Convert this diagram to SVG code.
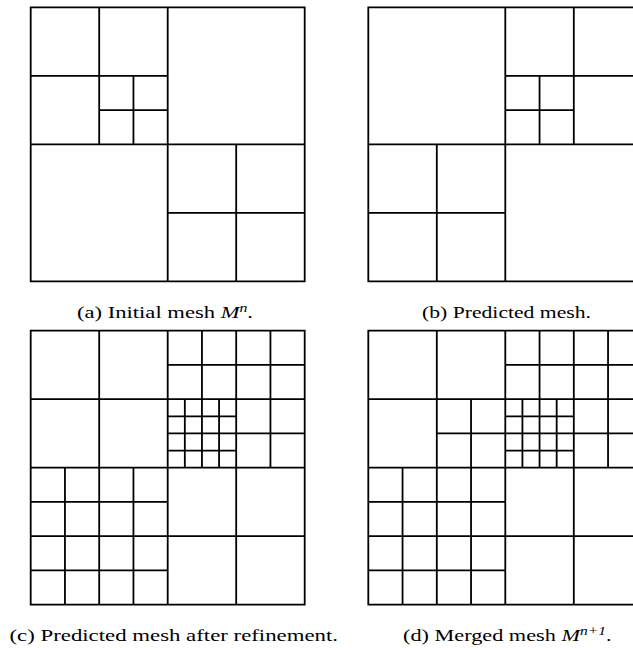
<svg xmlns="http://www.w3.org/2000/svg" width="633" height="648" viewBox="0 0 633 648">
<style>
.m{fill:none;stroke:#000;stroke-width:1.8;stroke-linecap:square}
.cap{font-family:"Liberation Serif","DejaVu Serif",serif;font-size:16.5px;fill:#000}
.it{font-style:italic}
</style>
<rect width="633" height="648" fill="#fff"/>
<g id="panel-a" transform="translate(30.7,7.3)">
<path class="m" d="M0,0H274V274H0Z M137,0V274 M0,137H274 M68.5,0V137 M0,68.5H137 M102.75,68.5V137 M68.5,102.75H137 M205.5,137V274 M137,205.5H274"/>
</g>
<g id="panel-b" transform="translate(368.3,7.3)">
<path class="m" d="M0,0H274V274H0Z M137,0V274 M0,137H274 M205.5,0V137 M137,68.5H274 M171.25,68.5V137 M137,102.75H205.5 M68.5,137V274 M0,205.5H137"/>
</g>
<g id="panel-c" transform="translate(30.7,330.7)">
<path class="m" d="M0,0H274V274H0Z M137,0V274 M0,137H274 M68.5,0V137 M0,68.5H137 M205.5,0V137 M137,68.5H274 M171.25,0V68.5 M239.75,0V137 M137,34.25H274 M137,102.75H274 M154.125,68.5V137 M171.25,68.5V137 M188.375,68.5V137 M137,85.625H205.5 M137,119.875H205.5 M34.25,137V274 M68.5,137V274 M102.75,137V274 M0,171.25H137 M0,205.5H137 M0,239.75H137 M205.5,137V274 M137,205.5H274"/>
</g>
<g id="panel-d" transform="translate(368.3,330.7)">
<path class="m" d="M0,0H274V274H0Z M137,0V274 M0,137H274 M68.5,0V137 M0,68.5H137 M102.75,68.5V137 M68.5,102.75H137 M205.5,0V137 M137,68.5H274 M171.25,0V68.5 M239.75,0V137 M137,34.25H274 M137,102.75H274 M154.125,68.5V137 M171.25,68.5V137 M188.375,68.5V137 M137,85.625H205.5 M137,119.875H205.5 M34.25,137V274 M68.5,137V274 M102.75,137V274 M0,171.25H137 M0,205.5H137 M0,239.75H137 M205.5,137V274 M137,205.5H274"/>
</g>
<g id="captions">
<text class="cap" x="77" y="318" textLength="176" lengthAdjust="spacingAndGlyphs">(a) Initial mesh <tspan class="it">M</tspan><tspan class="it" font-size="11.5" dy="-6">n</tspan><tspan dy="6">.</tspan></text>
<text class="cap" x="422" y="318" textLength="169" lengthAdjust="spacingAndGlyphs">(b) Predicted mesh.</text>
<text class="cap" x="9.5" y="641" textLength="328.5" lengthAdjust="spacingAndGlyphs">(c)  Predicted mesh after refinement.</text>
<text class="cap" x="403" y="641" textLength="208.5" lengthAdjust="spacingAndGlyphs">(d) Merged mesh <tspan class="it">M</tspan><tspan class="it" font-size="11.5" dy="-6">n+1</tspan><tspan dy="6">.</tspan></text>
</g>
</svg>
